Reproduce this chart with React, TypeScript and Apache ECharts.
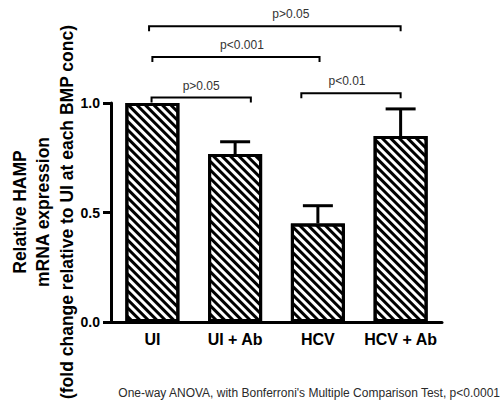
import React, { useEffect, useRef } from "react";
import * as echarts from "echarts";

const categories = ["UI", "UI + Ab", "HCV", "HCV + Ab"];
const means = [1.0, 0.767, 0.45, 0.849];
const upperErrors = [1.0, 0.823, 0.531, 0.973];
const yTicks = [0, 0.5, 1.0];

// comparisons: [fromCategory, toCategory, bracket level (y), label]
const comparisonFrom = [0, 0, 0, 2];
const comparisonTo = [1, 2, 3, 3];
const comparisonLevel = [1.025, 1.21, 1.35, 1.044];
const comparisonLabels = ["p>0.05", "p<0.001", "p>0.05", "p<0.01"];

const yAxisTitle = "Relative HAMP\nmRNA expression\n(fold change relative to UI at each BMP conc)";
const footnote = "One-way ANOVA, with Bonferroni's Multiple Comparison Test, p<0.0001";

// layout tweaks (band fractions) for bracket ends and label shifts
const bracketFromShift = [-0.01, 0.0, -0.04, -0.2];
const bracketToShift = [0.19, 0.02, 0.0, 0.0];
const labelShift = [0, 6, 16, -4];

const FONT = "'Liberation Sans', Arial, Helvetica, sans-serif";

export default function App() {
  const ref = useRef<HTMLDivElement>(null);

  useEffect(() => {
    if (!ref.current) return;
    const chart = echarts.init(ref.current, null, { renderer: "svg" });

    const errorData = categories.map((_, i) => [i, means[i], upperErrors[i]]);
    const bracketData = comparisonFrom.map((f, i) => [
      f,
      comparisonLevel[i],
      comparisonTo[i],
      i,
    ]);

    chart.setOption({
      animation: false,
      backgroundColor: "#fff",
      grid: { left: 111, right: 59, top: 103, bottom: 86, containLabel: false },
      xAxis: {
        type: "category",
        data: categories,
        axisTick: { show: false },
        axisLine: { show: true, lineStyle: { color: "#000", width: 3 } },
        axisLabel: {
          interval: 0,
          color: "#000",
          fontFamily: FONT,
          fontWeight: "bold",
          fontSize: 16,
          margin: 9,
        },
      },
      yAxis: {
        type: "value",
        min: 0,
        max: 1,
        interval: 0.5,
        splitLine: { show: false },
        axisLine: { show: true, lineStyle: { color: "#000", width: 3 } },
        axisTick: { show: true, length: 8, lineStyle: { color: "#000", width: 3 } },
        axisLabel: {
          color: "#000",
          fontFamily: FONT,
          fontWeight: "bold",
          fontSize: 14,
          margin: 11,
          formatter: (v: number) =>
            yTicks.some((t) => Math.abs(t - v) < 1e-9) ? v.toFixed(1) : "",
        },
      },
      graphic: [
        {
          type: "text",
          x: 43,
          y: 212,
          rotation: Math.PI / 2,
          style: {
            text: yAxisTitle,
            align: "center",
            verticalAlign: "middle",
            fontFamily: FONT,
            fontWeight: "bold",
            fontSize: 17.5,
            lineHeight: 23.5,
            fill: "#000",
          },
        },
        {
          type: "text",
          x: 500,
          y: 393,
          style: {
            text: footnote,
            align: "right",
            verticalAlign: "middle",
            fontFamily: FONT,
            fontSize: 12,
            fill: "#2a2a2a",
          },
        },
      ],
      series: [
        {
          type: "bar",
          data: means,
          barWidth: 54,
          itemStyle: {
            color: "#fff",
            borderColor: "#000",
            borderWidth: 3,
            decal: {
              symbol: "rect",
              symbolSize: 1,
              color: "#000",
              backgroundColor: "#fff",
              dashArrayX: [1, 0],
              dashArrayY: [3, 3],
              rotation: Math.PI / 4,
            },
          },
          z: 2,
        },
        {
          type: "custom",
          data: errorData,
          clip: false,
          z: 1,
          renderItem: (params: any, api: any) => {
            const x = api.value(0);
            const top = api.coord([x, api.value(2)]);
            const base = api.coord([x, api.value(1)]);
            if (Math.abs(top[1] - base[1]) < 0.5) return { type: "group", children: [] };
            const half = 15;
            return {
              type: "group",
              children: [
                {
                  type: "line",
                  shape: { x1: top[0], y1: top[1], x2: base[0], y2: base[1] },
                  style: { stroke: "#000", lineWidth: 3 },
                },
                {
                  type: "line",
                  shape: { x1: top[0] - half, y1: top[1], x2: top[0] + half, y2: top[1] },
                  style: { stroke: "#000", lineWidth: 3 },
                },
              ],
            };
          },
        },
        {
          type: "custom",
          data: bracketData,
          clip: false,
          z: 3,
          renderItem: (params: any, api: any) => {
            const k = api.value(3);
            const band = api.size([1, 0])[0];
            const p1 = api.coord([api.value(0), api.value(1)]);
            const p2 = api.coord([api.value(2), api.value(1)]);
            const x1 = p1[0] + bracketFromShift[k] * band;
            const x2 = p2[0] + bracketToShift[k] * band;
            const y = p1[1];
            const drop = 5;
            return {
              type: "group",
              children: [
                {
                  type: "polyline",
                  shape: {
                    points: [
                      [x1, y + drop],
                      [x1, y],
                      [x2, y],
                      [x2, y + drop],
                    ],
                  },
                  style: { stroke: "#000", lineWidth: 2, fill: "none" },
                },
                {
                  type: "text",
                  x: (x1 + x2) / 2 + labelShift[k],
                  y: y - 12,
                  style: {
                    text: comparisonLabels[k],
                    align: "center",
                    verticalAlign: "middle",
                    fontFamily: FONT,
                    fontSize: 12,
                    fill: "#333",
                  },
                },
              ],
            };
          },
        },
      ],
    });

    return () => chart.dispose();
  }, []);

  return (
    <div
      ref={ref}
      style={{ position: "absolute", left: 0, top: 0, width: 501, height: 408 }}
    />
  );
}
